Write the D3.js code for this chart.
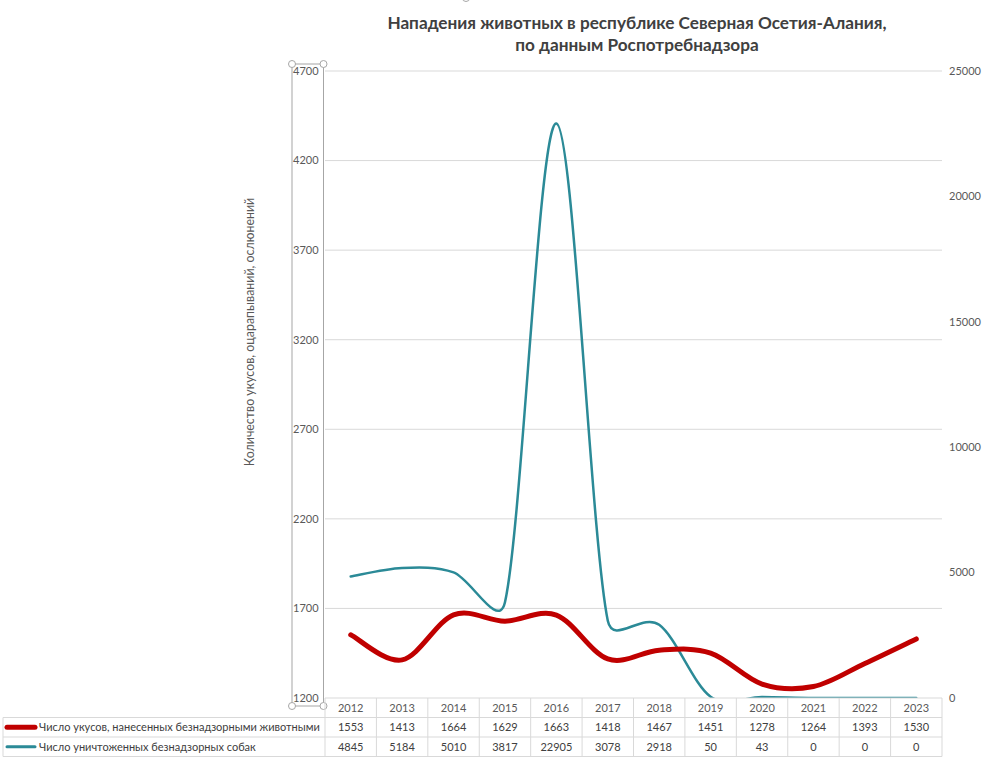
<!DOCTYPE html>
<html><head><meta charset="utf-8">
<script src="https://cdn.jsdelivr.net/npm/d3@7"></script>
<style>body{margin:0;background:#fff;} svg{display:block;font-family:Lato, "Open Sans", sans-serif;}</style>
</head><body>
<svg id="c" width="985" height="763"></svg>
<script>
const years = ["2012","2013","2014","2015","2016","2017","2018","2019","2020","2021","2022","2023"];
const bites = [1553,1413,1664,1629,1663,1418,1467,1451,1278,1264,1393,1530];
const dogs = [4845,5184,5010,3817,22905,3078,2918,50,43,0,0,0];
const leftTicks = [1200,1700,2200,2700,3200,3700,4200,4700];
const rightTicks = [0,5000,10000,15000,20000,25000];
const seriesNames = ["Число укусов, нанесенных безнадзорными животными","Число уничтоженных безнадзорных собак"];
const titleLines = ["Нападения животных в республике Северная Осетия-Алания,","по данным Роспотребнадзора"];
const yTitle = "Количество укусов, оцарапываний, ослюнений";

const svg = d3.select("#c");
const L=325, R=942, T=71, B=698;
const x = d3.scaleBand().domain(years).range([L,R]);
const yL = d3.scaleLinear().domain([1200,4700]).range([B,T]);
const yR = d3.scaleLinear().domain([0,25000]).range([B,T]);
const txt="#595959", grid="#d9d9d9";

// Excel-style smoothed line
function excelSmooth(pts){
  const dist=(a,b)=>Math.hypot(a[0]-b[0],a[1]-b[1]);
  const p = d3.path();
  p.moveTo(pts[0][0],pts[0][1]);
  for(let i=0;i<pts.length-1;i++){
    const p0=pts[Math.max(0,i-1)], p1=pts[i], p2=pts[i+1], p3=pts[Math.min(pts.length-1,i+2)];
    const d02=dist(p0,p2), d13=dist(p1,p3), d12=dist(p1,p2);
    let f1=1/6, f2=1/6;
    if(!(d02/6<d12/2 && d13/6<d12/2)){
      f1 = (d02/6>=d12/2) ? d12/d02/2 : 1/6;
      f2 = (d13/6>=d12/2) ? d12/d13/2 : 1/6;
    }
    const c1=[p1[0]+(p2[0]-p0[0])*f1, p1[1]+(p2[1]-p0[1])*f1];
    const c2=[p2[0]-(p3[0]-p1[0])*f2, p2[1]-(p3[1]-p1[1])*f2];
    p.bezierCurveTo(c1[0],c1[1],c2[0],c2[1],p2[0],p2[1]);
  }
  return p.toString();
}

// title
svg.append("g").selectAll("text").data(titleLines).join("text")
  .attr("x",637).attr("y",(d,i)=>29+i*22).attr("text-anchor","middle")
  .attr("font-size",17.2).attr("font-weight","bold").attr("fill","#404040").text(d=>d);
// top handle
svg.append("circle").attr("cx",466).attr("cy",-2).attr("r",3.5).attr("fill","#fff").attr("stroke","#a6a6a6");

// gridlines
svg.append("g").selectAll("line").data(leftTicks.slice(1)).join("line")
  .attr("x1",L).attr("x2",R).attr("y1",d=>yL(d)).attr("y2",d=>yL(d)).attr("stroke",grid);

// left axis labels
svg.append("g").selectAll("text").data(leftTicks).join("text")
  .attr("x",293).attr("y",d=>yL(d)).attr("dy","0.35em").attr("font-size",11).attr("fill",txt).text(d=>d);
// right axis labels
svg.append("g").selectAll("text").data(rightTicks).join("text")
  .attr("x",949).attr("y",d=>yR(d)).attr("dy","0.35em").attr("font-size",11).attr("fill",txt).text(d=>d);

// selection box round left axis
svg.append("rect").attr("x",292).attr("y",64).attr("width",31.5).attr("height",642)
  .attr("fill","none").attr("stroke","#a6a6a6");
[[292,64],[323.5,64],[292,706],[323.5,706]].forEach(p=>
  svg.append("circle").attr("cx",p[0]).attr("cy",p[1]).attr("r",3.5).attr("fill","#fff").attr("stroke","#a6a6a6"));

// axis title
svg.append("text").attr("transform","translate(254,332) rotate(-90)").attr("text-anchor","middle")
  .attr("font-size",12.4).attr("fill",txt).text(yTitle);

// clip
svg.append("clipPath").attr("id","cp").append("rect").attr("x",L).attr("y",T-20).attr("width",R-L).attr("height",B-T+20);

const cx = d=>x(d)+x.bandwidth()/2;
const gl = svg.append("g").attr("clip-path","url(#cp)");
gl.append("path").attr("d",excelSmooth(years.map((y,i)=>[cx(y),yR(dogs[i])])))
  .attr("fill","none").attr("stroke","#2b8a97").attr("stroke-width",2.5).attr("stroke-linecap","round");
gl.append("path").attr("d",excelSmooth(years.map((y,i)=>[cx(y),yL(bites[i])])))
  .attr("fill","none").attr("stroke","#c00000").attr("stroke-width",5).attr("stroke-linecap","round");

// data table
const rows=[698,717.5,737,756.5];
const tg = svg.append("g").attr("stroke",grid).attr("stroke-width",1);
tg.append("line").attr("x1",L).attr("x2",R).attr("y1",rows[0]).attr("y2",rows[0]);
[1,2,3].forEach(i=>tg.append("line").attr("x1",3).attr("x2",R).attr("y1",rows[i]).attr("y2",rows[i]));
tg.append("line").attr("x1",3).attr("x2",3).attr("y1",rows[1]).attr("y2",rows[3]);
tg.selectAll(".v").data(d3.range(13)).join("line")
  .attr("x1",i=>L+i*x.step()).attr("x2",i=>L+i*x.step()).attr("y1",rows[0]).attr("y2",rows[3]);

svg.append("g").selectAll("text").data(years).join("text")
  .attr("x",d=>cx(d)).attr("y",(rows[0]+rows[1])/2).attr("dy","0.35em").attr("text-anchor","middle")
  .attr("font-size",11).attr("fill",txt).text(d=>d);
[bites,dogs].forEach((arr,r)=>{
  svg.append("g").selectAll("text").data(arr).join("text")
    .attr("x",(d,i)=>cx(years[i])).attr("y",(rows[r+1]+rows[r+2])/2).attr("dy","0.35em").attr("text-anchor","middle")
    .attr("font-size",11).attr("fill","#404040").text(d=>d);
});
const keyCol=["#c00000","#2b8a97"], keyW=[5,3];
seriesNames.forEach((n,r)=>{
  const yy=(rows[r+1]+rows[r+2])/2;
  svg.append("line").attr("x1",7).attr("x2",35).attr("y1",yy).attr("y2",yy)
    .attr("stroke",keyCol[r]).attr("stroke-width",keyW[r]).attr("stroke-linecap","round");
  svg.append("text").attr("x",39).attr("y",yy).attr("dy","0.35em").attr("font-size",11).attr("fill","#404040").text(n);
});
</script>
</body></html>
